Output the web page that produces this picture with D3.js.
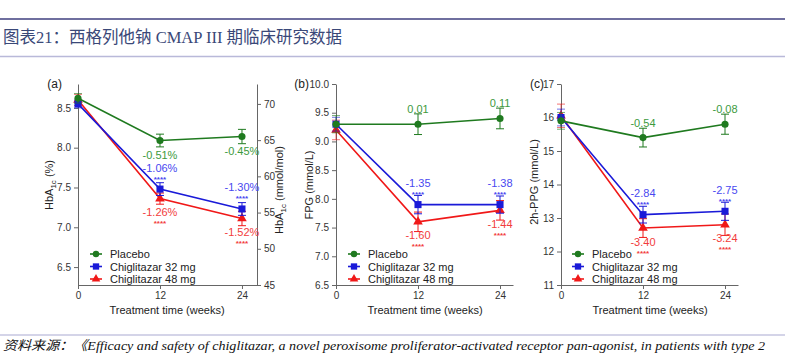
<!DOCTYPE html>
<html>
<head>
<meta charset="utf-8">
<script src="https://cdn.jsdelivr.net/npm/d3@7"></script>
<style>
  html, body { margin: 0; padding: 0; background: #fff; }
  svg { display: block; }
  .domain, .tick line { stroke: #666; stroke-width: 1; }
</style>
</head>
<body>
<svg id="chart" width="785" height="357"></svg>
<script>
// ---------------- data ----------------
const weeks = [0, 12, 24];
const weekTicks = [0, 12, 24];
const seriesNames = ["Placebo", "Chiglitazar 32 mg", "Chiglitazar 48 mg"];

// (a) HbA1c (%)
const hba1cPlacebo = [8.62, 8.09, 8.14];
const hba1c32 = [8.55, 7.48, 7.23];
const hba1c48 = [8.60, 7.36, 7.11];
const hba1cErrPlacebo = [0.06, 0.08, 0.09];
const hba1cErr32 = [0.05, 0.08, 0.08];
const hba1cErr48 = [0.07, 0.07, 0.09];
const hba1cLabPlacebo = ["", "-0.51%", "-0.45%"];
const hba1cLab32 = ["", "-1.06%", "-1.30%"];
const hba1cLab48 = ["", "-1.26%", "-1.52%"];
const hba1cTicks = [6.5, 7.0, 7.5, 8.0, 8.5];
const hba1cMmolTicks = [45, 50, 55, 60, 65, 70];

// (b) FPG (mmol/L)
const fpgPlacebo = [9.30, 9.30, 9.40];
const fpg32 = [9.30, 7.90, 7.90];
const fpg48 = [9.20, 7.60, 7.80];
const fpgErrPlacebo = [0.15, 0.18, 0.18];
const fpgErr32 = [0.12, 0.16, 0.15];
const fpgErr48 = [0.17, 0.17, 0.17];
const fpgLabPlacebo = ["", "0.01", "0.11"];
const fpgLab32 = ["", "-1.35", "-1.38"];
const fpgLab48 = ["", "-1.60", "-1.44"];
const fpgTicks = [6.5, 7.0, 7.5, 8.0, 8.5, 9.0, 9.5, 10.0];

// (c) 2h-PPG (mmol/L)
const ppgPlacebo = [15.90, 15.40, 15.80];
const ppg32 = [16.00, 13.10, 13.20];
const ppg48 = [16.05, 12.70, 12.80];
const ppgErrPlacebo = [0.25, 0.28, 0.30];
const ppgErr32 = [0.25, 0.25, 0.27];
const ppgErr48 = [0.35, 0.28, 0.32];
const ppgLabPlacebo = ["", "-0.54", "-0.08"];
const ppgLab32 = ["", "-2.84", "-2.75"];
const ppgLab48 = ["", "-3.40", "-3.24"];
const ppgTicks = [11, 12, 13, 14, 15, 16, 17];

const significance = "****";

// ---------------- styles ----------------
const lineColors = ["#1f7a1f", "#1a1ad8", "#f01818"];
const labelColors = ["#3d9a3d", "#4848f0", "#f23c3c"];
const FONT = '"Liberation Sans", Arial, sans-serif';

const svg = d3.select("#chart");

// header / footer
svg.append("line").attr("x1", 0).attr("x2", 785).attr("y1", 19).attr("y2", 19)
  .attr("stroke", "#6f6f9f").attr("stroke-width", 2);
svg.append("line").attr("x1", 0).attr("x2", 785).attr("y1", 56.5).attr("y2", 56.5)
  .attr("stroke", "#b9b9d9").attr("stroke-width", 1.5);
svg.append("text").attr("x", 3).attr("y", 43)
  .attr("font-family", '"Liberation Serif", "Noto Sans CJK SC", serif')
  .attr("font-size", 16.5).attr("fill", "#3a4878")
  .text("图表21：西格列他钠 CMAP III 期临床研究数据");
svg.append("line").attr("x1", 0).attr("x2", 785).attr("y1", 335).attr("y2", 335)
  .attr("stroke", "#a9a9d2").attr("stroke-width", 1.2);
svg.append("text").attr("x", 3).attr("y", 350)
  .attr("font-family", '"Liberation Serif", "Noto Sans CJK SC", serif')
  .attr("font-style", "italic").attr("font-size", 13).attr("fill", "#111")
  .attr("textLength", 762).attr("lengthAdjust", "spacingAndGlyphs")
  .text("资料来源：《Efficacy and safety of chiglitazar, a novel peroxisome proliferator-activated receptor pan-agonist, in patients with type 2");

// ---------------- panel drawer ----------------
function drawPanel(cfg) {
  const g = svg.append("g");
  const x = d3.scaleLinear().domain([0, cfg.xMax]).range([cfg.x0, cfg.x1]);
  const y = d3.scaleLinear().domain(cfg.yDomain).range([285, 84]);

  // axes
  g.append("g").attr("transform", "translate(0,285)")
    .call(d3.axisBottom(x).tickValues(weekTicks).tickSize(4).tickSizeOuter(0).tickFormat(d3.format("d")));
  g.append("g").attr("transform", `translate(${cfg.x0},0)`)
    .call(d3.axisLeft(y).tickValues(cfg.yTicks).tickSize(4).tickSizeOuter(0).tickFormat(d3.format(cfg.fmt)));
  if (cfg.right) {
    const y2 = d3.scaleLinear().domain(cfg.right.domain).range([285, 84]);
    g.append("g").attr("transform", `translate(${cfg.x1},0)`)
      .call(d3.axisRight(y2).tickValues(cfg.right.ticks).tickSize(4).tickSizeOuter(0).tickFormat(d3.format("d")));
  }
  g.selectAll(".tick text").attr("font-family", FONT).attr("font-size", 10).attr("fill", "#333");

  // axis titles
  g.append("text").attr("x", cfg.xTitleX).attr("y", 314).attr("text-anchor", "middle")
    .attr("font-family", FONT).attr("font-size", 11).attr("fill", "#222")
    .text("Treatment time (weeks)");
  const yt = g.append("text").attr("transform", `translate(${cfg.yTitleX},${cfg.yTitleY}) rotate(-90)`)
    .attr("text-anchor", "middle").attr("font-family", FONT).attr("font-size", 11).attr("fill", "#222");
  cfg.yTitle(yt);
  if (cfg.right) {
    const yt2 = g.append("text").attr("transform", `translate(${cfg.right.titleX},${cfg.right.titleY}) rotate(-90)`)
      .attr("text-anchor", "middle").attr("font-family", FONT).attr("font-size", 11).attr("fill", "#222");
    cfg.right.title(yt2);
  }
  g.append("text").attr("x", cfg.letterX).attr("y", 88).attr("text-anchor", "end")
    .attr("font-family", FONT).attr("font-size", 12).attr("fill", "#222").text(cfg.letter);

  const line = d3.line().x((d, i) => x(weeks[i])).y(d => y(d));
  const symbols = [d3.symbolCircle, d3.symbolSquare, d3.symbolTriangle];
  const symSizes = [40, 50, 40];

  // draw order: 48, 32, placebo
  [2, 1, 0].forEach(si => {
    const s = cfg.series[si];
    const col = lineColors[si];
    // error bars
    s.values.forEach((v, i) => {
      const e = s.errs[i];
      const cx = x(weeks[i]);
      g.append("line").attr("x1", cx).attr("x2", cx).attr("y1", y(v - e)).attr("y2", y(v + e))
        .attr("stroke", col).attr("stroke-width", 1).attr("opacity", i === 0 ? 0.6 : 1);
      [v - e, v + e].forEach(b => {
        g.append("line").attr("x1", cx - 4).attr("x2", cx + 4).attr("y1", y(b)).attr("y2", y(b))
          .attr("stroke", col).attr("stroke-width", 1).attr("opacity", i === 0 ? 0.6 : 1);
      });
    });
    g.append("path").datum(s.values).attr("d", line)
      .attr("fill", "none").attr("stroke", col).attr("stroke-width", 1.6);
    s.values.forEach((v, i) => {
      g.append("path").attr("d", d3.symbol(symbols[si], symSizes[si])())
        .attr("transform", `translate(${x(weeks[i])},${y(v)})`).attr("fill", col);
    });
  });

  // value labels
  [0, 1, 2].forEach(si => {
    const s = cfg.series[si];
    const pos = cfg.labelPos[si];
    s.values.forEach((v, i) => {
      const t = s.labels[i];
      if (!t) return;
      const cx = x(weeks[i]);
      const cy = y(v);
      const up = pos === "above";
      let labelOff, starOff;
      if (si === 0) { labelOff = up ? -11 : 18; }
      else if (up) { labelOff = -17.5; starOff = -7.5; }
      else { labelOff = 17.5; starOff = 27.5; }
      g.append("text").attr("x", cx).attr("y", cy + labelOff)
        .attr("text-anchor", "middle").attr("font-family", FONT).attr("font-size", 11)
        .attr("fill", labelColors[si]).text(t);
      if (si > 0) {
        g.append("text").attr("x", cx).attr("y", cy + starOff)
          .attr("text-anchor", "middle").attr("font-family", FONT).attr("font-size", 8)
          .attr("font-weight", "bold").attr("fill", labelColors[si]).text(significance);
      }
    });
  });

  // legend
  seriesNames.forEach((name, si) => {
    const ly = 254 + si * 12.5;
    g.append("line").attr("x1", cfg.legX).attr("x2", cfg.legX + 12).attr("y1", ly).attr("y2", ly)
      .attr("stroke", lineColors[si]).attr("stroke-width", 1.6);
    g.append("path").attr("d", d3.symbol(symbols[si], symSizes[si] * 0.8)())
      .attr("transform", `translate(${cfg.legX + 6},${ly})`).attr("fill", lineColors[si]);
    g.append("text").attr("x", cfg.legX + 20).attr("y", ly + 4)
      .attr("font-family", FONT).attr("font-size", 11).attr("fill", "#222").text(name);
  });
}

function subTitle(sel, main, sub, rest) {
  sel.append("tspan").text(main);
  sel.append("tspan").attr("font-size", 8).attr("dy", 3).text(sub);
  sel.append("tspan").attr("dy", -3).text(rest);
}

drawPanel({
  letter: "(a)", letterX: 62,
  x0: 78, x1: 257, xMax: 26.2,
  yDomain: [6.275, 8.8], yTicks: hba1cTicks, fmt: ".1f",
  xTitleX: 167, yTitleX: 53, yTitleY: 185,
  yTitle: s => subTitle(s, "HbA", "1c", " (%)"),
  right: { domain: [45, 72.75], ticks: hba1cMmolTicks, titleX: 283, titleY: 190,
           title: s => subTitle(s, "HbA", "1c", " (mmol/mol)") },
  series: [
    { values: hba1cPlacebo, errs: hba1cErrPlacebo, labels: hba1cLabPlacebo },
    { values: hba1c32, errs: hba1cErr32, labels: hba1cLab32 },
    { values: hba1c48, errs: hba1cErr48, labels: hba1cLab48 }
  ],
  labelPos: ["below", "above", "below"],
  legX: 90
});

drawPanel({
  letter: "(b)", letterX: 309,
  x0: 336, x1: 513, xMax: 25.9,
  yDomain: [6.5, 10.0], yTicks: fpgTicks, fmt: ".1f",
  xTitleX: 425, yTitleX: 313, yTitleY: 185,
  yTitle: s => s.text("FPG (mmol/L)"),
  series: [
    { values: fpgPlacebo, errs: fpgErrPlacebo, labels: fpgLabPlacebo },
    { values: fpg32, errs: fpgErr32, labels: fpgLab32 },
    { values: fpg48, errs: fpgErr48, labels: fpgLab48 }
  ],
  labelPos: ["above", "above", "below"],
  legX: 348
});

drawPanel({
  letter: "(c)", letterX: 544,
  x0: 561, x1: 738, xMax: 25.9,
  yDomain: [11, 17], yTicks: ppgTicks, fmt: "d",
  xTitleX: 650, yTitleX: 538, yTitleY: 182,
  yTitle: s => s.text("2h-PPG (mmol/L)"),
  series: [
    { values: ppgPlacebo, errs: ppgErrPlacebo, labels: ppgLabPlacebo },
    { values: ppg32, errs: ppgErr32, labels: ppgLab32 },
    { values: ppg48, errs: ppgErr48, labels: ppgLab48 }
  ],
  labelPos: ["above", "above", "below"],
  legX: 572
});
</script>
</body>
</html>
